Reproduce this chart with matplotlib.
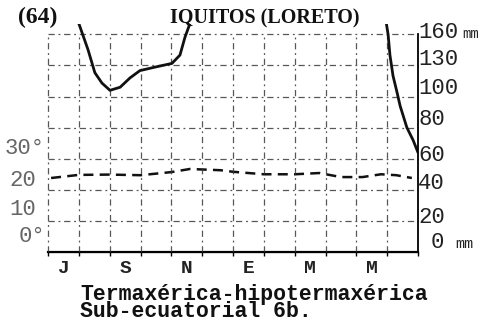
"""
    Ombrothermic diagram for Iquitos (Loreto): monthly rainfall in mm
    on the right scale, mean temperature in degrees C on the left scale
    (10 C = 20 mm), year running from July to June.
"""

import numpy as np
import matplotlib.pyplot as plt
from matplotlib import transforms

# Month labels, every other month starting in July
month_pos = [0.5, 2.5, 4.5, 6.5, 8.5, 10.5]
month_lab = ['J', 'S', 'N', 'E', 'M', 'M']

# Rainfall trace (mm), position in months from the start of July.
# The curve is off the chart (> 160 mm) between the two pieces.
rain_a_pos = [0.97, 1.10, 1.30, 1.52, 1.75, 2.01, 2.34, 2.66, 2.98, 3.41, 4.02, 4.28, 4.44, 4.61]
rain_a_mm = [173, 162, 145, 123, 113, 106, 109, 118, 125, 128, 132, 140, 157, 171]
rain_b_pos = [10.96, 11.03, 11.09, 11.19, 11.32, 11.42, 11.64, 11.84, 12.0]
rain_b_mm = [173, 160, 140, 120, 104, 94, 80, 72, 64]

# Temperature trace (deg C)
temp_pos = [0.1, 1.0, 2.0, 3.0, 4.0, 4.6, 5.6, 6.0, 7.0, 8.0, 8.8, 9.5, 10.2, 10.8, 11.3, 11.8]
temp_c = [23.8, 24.8, 24.9, 24.7, 25.7, 26.7, 26.3, 25.8, 25.0, 25.0, 25.4, 24.1, 24.1, 25.0, 24.7, 23.8]

# Scale ticks
mm_ticks = [0, 20, 40, 60, 80, 100, 130, 160]
deg_ticks = [30, 20, 10, 0]
deg_labels = ['30°', '20', '10', '0°']

# hand-lettered labels sit a little above their lines (pixels)
mm_nudge = [9, 3, 6, 3, 8, 8, 6, 2]
deg_nudge = [10, 9, 11, 15]

MONO = 'Liberation Mono'
SERIF = 'Liberation Serif'


# rainfall axis: 20 mm per division up to 100, 30 mm per division above
def mm_fwd(p):
    return np.interp(p, [0, 100, 400], [0, 5, 15])


def mm_inv(u):
    return np.interp(u, [0, 5, 15], [0, 100, 400])


fig = plt.figure(figsize=(4.9, 3.3), dpi=100)
ax = fig.add_axes([48/490, 1 - 252/330, 370/490, 228/330])
ax.set_xlim(0, 12)
ax.set_ylim(0, 10 * mm_fwd(170))   # temperature, 10 C per division

axp = ax.twinx()
axp.set_yscale('function', functions=(mm_fwd, mm_inv))
axp.set_ylim(0, 170)

grid_kw = dict(color='#3a3a3a', lw=0.9, ls=(0, (5, 3, 1.5, 3)), alpha=0.85,
               clip_on=False)
for mm in mm_ticks[1:]:
    axp.hlines(mm, 0, 12, **grid_kw)
axp.vlines(range(0, 12), 0, 160, **grid_kw)

# rainfall and temperature curves
axp.plot(rain_a_pos, rain_a_mm, '-', color='#111', lw=2.0, solid_capstyle='round')
axp.plot(rain_b_pos, rain_b_mm, '-', color='#111', lw=2.0, solid_capstyle='round')
ax.plot(temp_pos, temp_c, color='#111', lw=1.8, ls=(0, (4, 2.5)))

for a in (ax, axp):
    a.spines['top'].set_visible(False)
    a.spines['left'].set_visible(False)
    a.set_yticks([])
axp.spines['right'].set_bounds(0, 160)
axp.spines['right'].set_linewidth(1.3)
ax.spines['right'].set_visible(False)
ax.spines['bottom'].set_linewidth(1.6)

ax.set_xticks(range(13))
ax.set_xticklabels([])
ax.tick_params(axis='x', which='major', length=3, width=1, direction='out')
ax.set_xticks(month_pos, month_lab, minor=True)
ax.tick_params(axis='x', which='minor', length=0, pad=6)
for t in ax.get_xticklabels(minor=True):
    t.set_fontfamily(MONO)
    t.set_fontsize(14)
    t.set_fontweight('bold')
    t.set_color('#222')

# right scale labels
for mm, dy in zip(mm_ticks, mm_nudge):
    dx = 13 if mm == 0 else 0
    tr = transforms.offset_copy(axp.transData, fig=fig, x=dx, y=dy, units='dots')
    axp.text(12, mm, str(mm), transform=tr, ha='left', va='center',
             family=MONO, fontsize=16, color='#222', clip_on=False)
tr = transforms.offset_copy(axp.transData, fig=fig, x=44, y=0, units='dots')
axp.text(12, 160, 'mm', transform=tr, ha='left', va='center',
         family=MONO, fontsize=10, color='#222')
tr = transforms.offset_copy(axp.transData, fig=fig, x=37, y=8, units='dots')
axp.text(12, 0, 'mm', transform=tr, ha='left', va='center',
         family=MONO, fontsize=11, color='#222')

# left scale labels
for deg, lab, dy in zip(deg_ticks, deg_labels, deg_nudge):
    dx = -3 if lab.endswith('°') else -12
    tr = transforms.offset_copy(ax.transData, fig=fig, x=dx, y=dy, units='dots')
    ax.text(0, deg, lab, transform=tr, ha='right', va='center',
            family=MONO, fontsize=16, color='#666')

fig.text(38/490, 1 - 17/330, '(64)', family=SERIF, fontsize=17,
         fontweight='bold', ha='center', va='center', color='#111')
fig.text(265/490, 1 - 18/330, 'IQUITOS (LORETO)', family=SERIF, fontsize=14.5,
         fontweight='bold', ha='center', va='center', color='#111')
fig.text(80/490, 1 - 303/330, 'Termaxérica-hipotermaxérica\nSub-ecuatorial 6b.',
         family=MONO, fontsize=15.5, fontweight='bold', linespacing=0.8,
         ha='left', va='center', color='#111')

fig.savefig('out.png', dpi=100)
